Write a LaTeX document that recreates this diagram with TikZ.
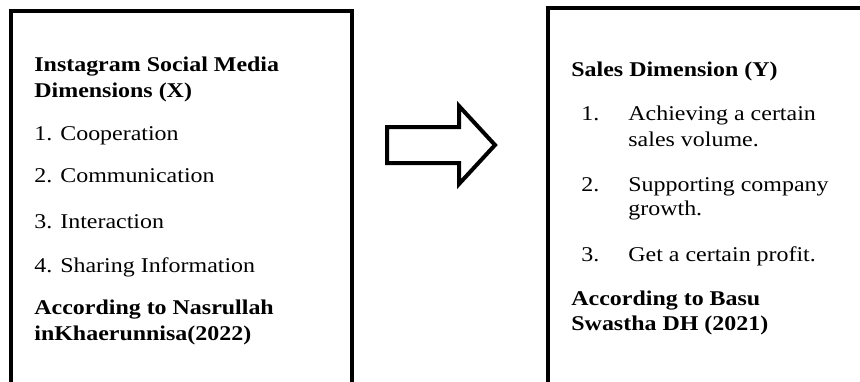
\documentclass[tikz,border=0pt]{standalone}
\usepackage{fontspec}
\setmainfont[FakeStretch=1.14]{Liberation Serif}
\usepackage{tikz}
\usetikzlibrary{positioning}

\begin{document}
\begin{tikzpicture}[x=0.5pt, y=-0.5pt, line join=miter,
    txt/.style={anchor=base west, inner sep=0pt, font=\fontsize{10.5}{13}\selectfont},
    btxt/.style={txt, font=\fontsize{10.5}{13}\selectfont\bfseries}]
   \useasboundingbox (0,0) rectangle (860,381);
   % open frames, cut off at the bottom
   \draw[line width=2pt] (11,395) -- (11,11) -- (352,11) -- (352,395);
   \draw[line width=2pt] (548,395) -- (548,8) -- (875,8);
   % block arrow
   \draw[line width=2pt] (387,127) -- (459,127) -- (459,106) -- (495,145)
      -- (459,184) -- (459,163) -- (387,163) -- cycle;
   % left frame
   \node[btxt] (x1) at (34,71) {Instagram Social Media};
   \node[btxt] (x2) at (34,97) {Dimensions (X)};
   \node[txt] (x3) at (34,140) {1. Cooperation};
   \node[txt] (x4) at (34,182) {2. Communication};
   \node[txt] (x5) at (34,228) {3. Interaction};
   \node[txt] (x6) at (34,272) {4. Sharing Information};
   \node[btxt] (x7) at (34,314) {According to Nasrullah};
   \node[btxt] (x8) at (34,340) {inKhaerunnisa(2022)};
   % right frame
   \node[btxt] (y1) at (571,76) {Sales Dimension (Y)};
   \node[txt] (n1) at (581,120) {1.};
   \node[txt] (y2) at (628,120) {Achieving a certain};
   \node[txt] (y3) at (628,146) {sales volume.};
   \node[txt] (n2) at (581,191) {2.};
   \node[txt] (y4) at (628,191) {Supporting company};
   \node[txt] (y5) at (628,215) {growth.};
   \node[txt] (n3) at (581,261) {3.};
   \node[txt] (y6) at (628,261) {Get a certain profit.};
   \node[btxt] (y7) at (571,305) {According to Basu};
   \node[btxt] (y8) at (571,330) {Swastha DH (2021)};
\end{tikzpicture}
\end{document}
